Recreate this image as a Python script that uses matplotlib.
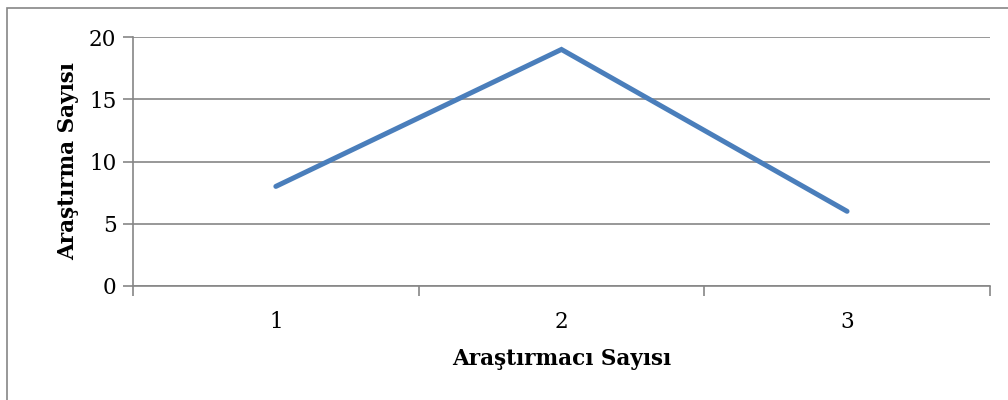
#!/usr/bin/env python3
"""Line chart: Araştırma Sayısı by Araştırmacı Sayısı."""
import matplotlib
matplotlib.use("Agg")
import matplotlib.pyplot as plt
from matplotlib.patches import Rectangle
import numpy as np

categories = ["1", "2", "3"]
values = [8, 19, 6]
y_ticks = [0, 5, 10, 15, 20]

LINE = "#4a7ebb"
GRID = "#868686"

plt.rcParams["font.family"] = ["DejaVu Serif"]

fig = plt.figure(figsize=(10.08, 4.0), dpi=100, facecolor="white")
ax = fig.add_axes([0.132, 0.285, 0.850, 0.6225])

x = np.arange(len(categories))
ax.plot(x, values, color=LINE, lw=3.6, solid_capstyle="round", solid_joinstyle="miter")

ax.set_xlim(-0.5, len(categories) - 0.5)
ax.set_ylim(0, 20)
ax.set_yticks(y_ticks)
ax.set_yticklabels([str(v) for v in y_ticks], fontsize=15.5)
ax.set_xticks(x)
ax.set_xticklabels(categories, fontsize=15.5)
ax.tick_params(axis="x", length=0, pad=18)
ax.set_xticks(np.arange(-0.5, len(categories)), minor=True)
ax.tick_params(axis="x", which="minor", length=7, color=GRID, width=1.2)
ax.tick_params(axis="y", length=7, color=GRID, width=1.2, pad=5)

ax.grid(axis="y", color=GRID, lw=1.2)
ax.set_axisbelow(True)
for s in ("top", "right"):
    ax.spines[s].set_visible(False)
for s in ("left", "bottom"):
    ax.spines[s].set_color(GRID)
    ax.spines[s].set_linewidth(1.2)

ax.set_xlabel("Araştırmacı Sayısı", fontsize=15.5, fontweight="bold", labelpad=11)
ax.set_ylabel("Araştırma Sayısı", fontsize=15.5, fontweight="bold", labelpad=7)

fig.patches.append(Rectangle((7 / 1008, -0.05), 1.1, 1 - 8 / 400 + 0.05,
                             transform=fig.transFigure, fill=False,
                             edgecolor=GRID, lw=1.2))

fig.savefig("out.png", dpi=100)
